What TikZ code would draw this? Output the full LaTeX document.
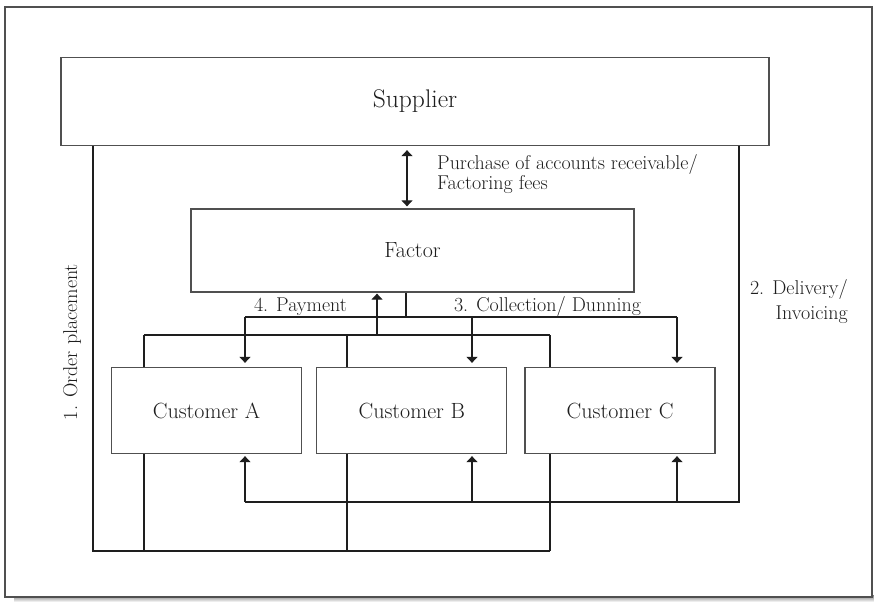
\documentclass[tikz,border=0pt]{standalone}
\usepackage{tikz}
\usetikzlibrary{arrows.meta,positioning,calc}
\definecolor{ink}{RGB}{30,30,30}
\definecolor{edge}{RGB}{80,80,80}
\definecolor{shade}{RGB}{75,75,75}
\tikzset{
  box/.style  = {draw=edge, line width=1.3pt, fill=white, text=ink,
                 align=center, inner sep=0pt, font=\fontsize{22}{26}\selectfont,
                 minimum width=190pt, minimum height=86pt},
  wire/.style = {draw=ink, line width=1.1pt},
  flow/.style = {wire, ->, shorten >=4pt},
  lbl/.style  = {text=ink, inner sep=0pt, font=\fontsize{20}{20}\selectfont},
  >={Triangle[width=11pt,length=6pt]},
}

\begin{document}
\begin{tikzpicture}[x=1pt, y=-1pt]
\useasboundingbox (0,0) rectangle (874,602);
% page frame with its shadow
\fill[shade] (14,595) rectangle (874,602);
\draw[edge, line width=1.5pt, fill=white] (5,7) rectangle (872,597);

% parties
\node[box, minimum width=708pt, minimum height=88pt,
      font=\fontsize{25.5}{30}\selectfont] (sup) at (415,101.5) {Supplier};
\node[box, minimum width=443pt, minimum height=83pt] (fac) at (412.5,250.5) {Factor};
\node[box] (ca) at (206.5,410.5) {Customer A};
\node[box, right=14pt of ca] (cb) {Customer B};
\node[box, right=17pt of cb] (cc) {Customer C};

% bus points
\coordinate (pf)   at (407,0);
\coordinate (colF) at (406,317);
\coordinate (colA) at (245,317);
\coordinate (colB) at (472,317);
\coordinate (colC) at (677,317);
\coordinate (payF) at (377,335);
\coordinate (payA) at (144,335);
\coordinate (payB) at (347,335);
\coordinate (payC) at (550,335);
\coordinate (delS) at (739,502);
\coordinate (ordS) at (93,551);

% purchase of receivables
\draw[wire, <->, shorten <=4pt, shorten >=2pt] (sup.south -| pf) -- (fac.north -| pf);

% 3. collection / dunning
\draw[wire] (fac.south -| colF) -- (colF);
\draw[wire] (colA) -- (colC);
\draw[flow] (colA) -- (ca.north -| colA);
\draw[flow] (colB) -- (cb.north -| colB);
\draw[flow] (colC) -- (cc.north -| colC);

% 4. payment
\draw[wire] (payA) -- (payC);
\draw[wire] (ca.north -| payA) -- (payA);
\draw[wire] (cb.north -| payB) -- (payB);
\draw[wire] (cc.north -| payC) -- (payC);
\draw[flow, shorten >=1pt] (payF) -- (fac.south -| payF);

% 2. delivery / invoicing
\draw[wire] (sup.south -| delS) -- (delS) -- (delS -| colA);
\draw[flow, shorten >=2pt] (delS -| colA) -- (ca.south -| colA);
\draw[flow, shorten >=2pt] (delS -| colB) -- (cb.south -| colB);
\draw[flow, shorten >=2pt] (delS -| colC) -- (cc.south -| colC);

% 1. order placement
\draw[wire] (sup.south -| ordS) -- (ordS) -- (ordS -| payC);
\draw[wire] (ca.south -| payA) -- (ordS -| payA);
\draw[wire] (cb.south -| payB) -- (ordS -| payB);
\draw[wire] (cc.south -| payC) -- (ordS -| payC);

% labels
\node[lbl, anchor=north west, align=left] (lpur) at (437,154)
  {Purchase of accounts receivable/\\Factoring fees};
\node[lbl, anchor=base] (lpay) at (300.5,311) {4. Payment};
\node[lbl, anchor=base] (lcol) at (547.5,311) {3. Collection/ Dunning};
\node[lbl, anchor=north east, align=right] (ldel) at (848,279)
  {2. Delivery/\\[5pt]Invoicing};
\node[lbl, anchor=base, rotate=90] (lord) at (77,342) {1. Order placement};
\end{tikzpicture}
\end{document}
